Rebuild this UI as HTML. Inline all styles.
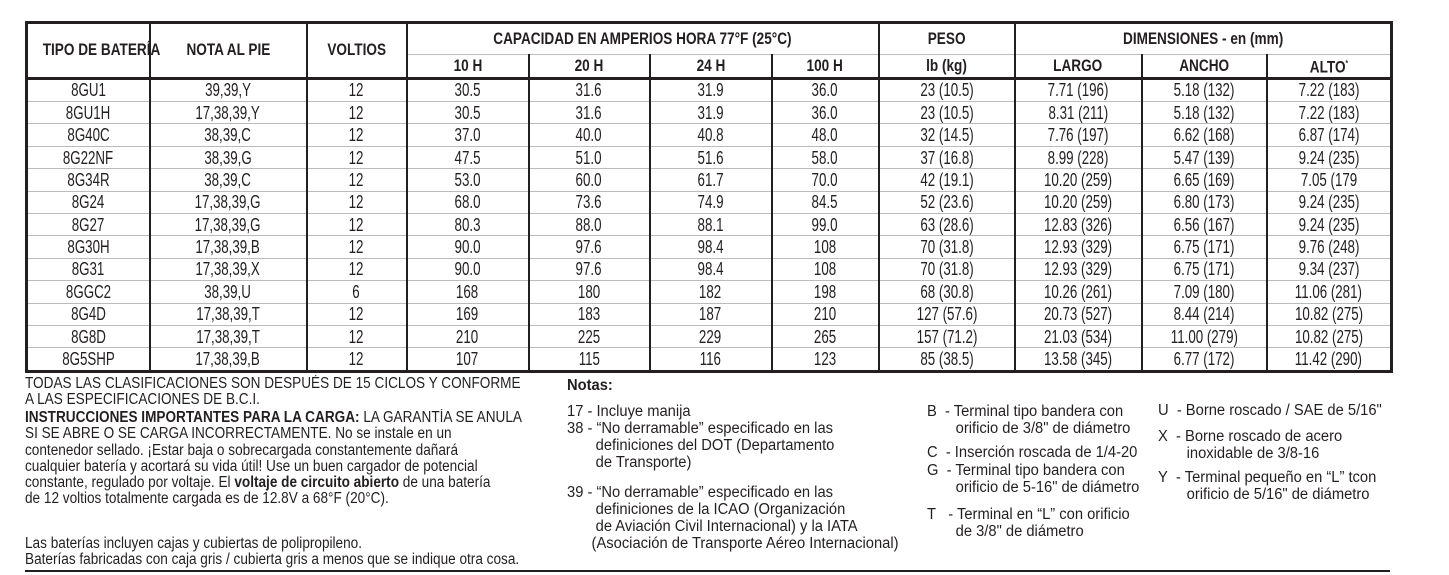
<!DOCTYPE html>
<html><head><meta charset="utf-8">
<style>
body{margin:0;width:1449px;height:575px;background:#fff;position:relative;overflow:hidden;color:#231f20;}
table{position:absolute;left:25px;top:21px;border-collapse:collapse;table-layout:fixed;width:1365px;font-family:"Liberation Sans",sans-serif;font-size:18px;border:3px solid #231f20;}
td,th{padding:0;text-align:center;border-left:2px solid #231f20;border-right:2px solid #231f20;line-height:20px;white-space:nowrap;overflow:visible;}
th{font-weight:bold;font-size:17px;}
td span,th span{display:inline-block;transform:scaleX(0.74);transform-origin:center;}
th span{transform:scaleX(0.8);}
tbody td{height:21.4px;border-bottom:1px solid #bbb;}
tr.h1 th{height:30px;}
tr.h2 th{height:18px;line-height:18px;border-top:1px solid #bbb;border-bottom:3px solid #231f20;}
tr.h1 th[rowspan]{border-bottom:3px solid #231f20;}
.t{position:absolute;font-family:"Liberation Sans",sans-serif;font-size:15.5px;line-height:16.3px;white-space:nowrap;transform:scaleX(0.877);transform-origin:left top;}
.n{position:absolute;font-family:"Liberation Sans",sans-serif;font-size:15.5px;line-height:17px;white-space:nowrap;transform:scaleX(0.95);transform-origin:left top;}
</style></head><body>
<table>
<colgroup><col style="width:123px"><col style="width:157px"><col style="width:100px"><col style="width:122px"><col style="width:121px"><col style="width:122px"><col style="width:107px"><col style="width:136px"><col style="width:127px"><col style="width:125px"><col style="width:125px"></colgroup>
<thead>
<tr class="h1"><th rowspan="2"><span>TIPO DE BATERÍA</span></th><th rowspan="2"><span>NOTA AL PIE</span></th><th rowspan="2"><span>VOLTIOS</span></th><th colspan="4"><span>CAPACIDAD EN AMPERIOS HORA 77°F (25°C)</span></th><th><span>PESO</span></th><th colspan="3"><span>DIMENSIONES - en (mm)</span></th></tr>
<tr class="h2"><th><span>10 H</span></th><th><span>20 H</span></th><th><span>24 H</span></th><th><span>100 H</span></th><th><span>lb (kg)</span></th><th><span>LARGO</span></th><th><span>ANCHO</span></th><th><span>ALTO<sup style="font-size:8px">*</sup></span></th></tr>
</thead>
<tbody>
<tr><td><span>8GU1</span></td><td><span>39,39,Y</span></td><td><span>12</span></td><td><span>30.5</span></td><td><span>31.6</span></td><td><span>31.9</span></td><td><span>36.0</span></td><td><span>23 (10.5)</span></td><td><span>7.71 (196)</span></td><td><span>5.18 (132)</span></td><td><span>7.22 (183)</span></td></tr>
<tr><td><span>8GU1H</span></td><td><span>17,38,39,Y</span></td><td><span>12</span></td><td><span>30.5</span></td><td><span>31.6</span></td><td><span>31.9</span></td><td><span>36.0</span></td><td><span>23 (10.5)</span></td><td><span>8.31 (211)</span></td><td><span>5.18 (132)</span></td><td><span>7.22 (183)</span></td></tr>
<tr><td><span>8G40C</span></td><td><span>38,39,C</span></td><td><span>12</span></td><td><span>37.0</span></td><td><span>40.0</span></td><td><span>40.8</span></td><td><span>48.0</span></td><td><span>32 (14.5)</span></td><td><span>7.76 (197)</span></td><td><span>6.62 (168)</span></td><td><span>6.87 (174)</span></td></tr>
<tr><td><span>8G22NF</span></td><td><span>38,39,G</span></td><td><span>12</span></td><td><span>47.5</span></td><td><span>51.0</span></td><td><span>51.6</span></td><td><span>58.0</span></td><td><span>37 (16.8)</span></td><td><span>8.99 (228)</span></td><td><span>5.47 (139)</span></td><td><span>9.24 (235)</span></td></tr>
<tr><td><span>8G34R</span></td><td><span>38,39,C</span></td><td><span>12</span></td><td><span>53.0</span></td><td><span>60.0</span></td><td><span>61.7</span></td><td><span>70.0</span></td><td><span>42 (19.1)</span></td><td><span>10.20 (259)</span></td><td><span>6.65 (169)</span></td><td><span>7.05 (179</span></td></tr>
<tr><td><span>8G24</span></td><td><span>17,38,39,G</span></td><td><span>12</span></td><td><span>68.0</span></td><td><span>73.6</span></td><td><span>74.9</span></td><td><span>84.5</span></td><td><span>52 (23.6)</span></td><td><span>10.20 (259)</span></td><td><span>6.80 (173)</span></td><td><span>9.24 (235)</span></td></tr>
<tr><td><span>8G27</span></td><td><span>17,38,39,G</span></td><td><span>12</span></td><td><span>80.3</span></td><td><span>88.0</span></td><td><span>88.1</span></td><td><span>99.0</span></td><td><span>63 (28.6)</span></td><td><span>12.83 (326)</span></td><td><span>6.56 (167)</span></td><td><span>9.24 (235)</span></td></tr>
<tr><td><span>8G30H</span></td><td><span>17,38,39,B</span></td><td><span>12</span></td><td><span>90.0</span></td><td><span>97.6</span></td><td><span>98.4</span></td><td><span>108</span></td><td><span>70 (31.8)</span></td><td><span>12.93 (329)</span></td><td><span>6.75 (171)</span></td><td><span>9.76 (248)</span></td></tr>
<tr><td><span>8G31</span></td><td><span>17,38,39,X</span></td><td><span>12</span></td><td><span>90.0</span></td><td><span>97.6</span></td><td><span>98.4</span></td><td><span>108</span></td><td><span>70 (31.8)</span></td><td><span>12.93 (329)</span></td><td><span>6.75 (171)</span></td><td><span>9.34 (237)</span></td></tr>
<tr><td><span>8GGC2</span></td><td><span>38,39,U</span></td><td><span>6</span></td><td><span>168</span></td><td><span>180</span></td><td><span>182</span></td><td><span>198</span></td><td><span>68 (30.8)</span></td><td><span>10.26 (261)</span></td><td><span>7.09 (180)</span></td><td><span>11.06 (281)</span></td></tr>
<tr><td><span>8G4D</span></td><td><span>17,38,39,T</span></td><td><span>12</span></td><td><span>169</span></td><td><span>183</span></td><td><span>187</span></td><td><span>210</span></td><td><span>127 (57.6)</span></td><td><span>20.73 (527)</span></td><td><span>8.44 (214)</span></td><td><span>10.82 (275)</span></td></tr>
<tr><td><span>8G8D</span></td><td><span>17,38,39,T</span></td><td><span>12</span></td><td><span>210</span></td><td><span>225</span></td><td><span>229</span></td><td><span>265</span></td><td><span>157 (71.2)</span></td><td><span>21.03 (534)</span></td><td><span>11.00 (279)</span></td><td><span>10.82 (275)</span></td></tr>
<tr><td><span>8G5SHP</span></td><td><span>17,38,39,B</span></td><td><span>12</span></td><td><span>107</span></td><td><span>115</span></td><td><span>116</span></td><td><span>123</span></td><td><span>85 (38.5)</span></td><td><span>13.58 (345)</span></td><td><span>6.77 (172)</span></td><td><span>11.42 (290)</span></td></tr>
</tbody></table>

<div class="t" style="left:25px;top:376px;">TODAS LAS CLASIFICACIONES SON DESPUÉS DE 15 CICLOS Y CONFORME<br>A LAS ESPECIFICACIONES DE B.C.I.</div>
<div class="t" style="left:25px;top:410px;"><b>INSTRUCCIONES IMPORTANTES PARA LA CARGA:</b> LA GARANTÍA SE ANULA<br>SI SE ABRE O SE CARGA INCORRECTAMENTE. No se instale en un<br>contenedor sellado. ¡Estar baja o sobrecargada constantemente dañará<br>cualquier batería y acortará su vida útil! Use un buen cargador de potencial<br>constante, regulado por voltaje. El <b>voltaje de circuito abierto</b> de una batería<br>de 12 voltios totalmente cargada es de 12.8V a 68°F (20°C).</div>
<div class="t" style="left:25px;top:536px;">Las baterías incluyen cajas y cubiertas de polipropileno.<br>Baterías fabricadas con caja gris / cubierta gris a menos que se indique otra cosa.</div>

<div class="n" style="left:567px;top:377px;font-weight:bold;">Notas:</div>
<div class="n" style="left:567px;top:403px;">17 - Incluye manija</div>
<div class="n" style="left:567px;top:420px;">38 - “No derramable” especificado en las<br>&nbsp;&nbsp;&nbsp;&nbsp;&nbsp;&nbsp;&nbsp;definiciones del DOT (Departamento<br>&nbsp;&nbsp;&nbsp;&nbsp;&nbsp;&nbsp;&nbsp;de Transporte)</div>
<div class="n" style="left:567px;top:484px;">39 - “No derramable” especificado en las<br>&nbsp;&nbsp;&nbsp;&nbsp;&nbsp;&nbsp;&nbsp;definiciones de la ICAO (Organización<br>&nbsp;&nbsp;&nbsp;&nbsp;&nbsp;&nbsp;&nbsp;de Aviación Civil Internacional) y la IATA<br>&nbsp;&nbsp;&nbsp;&nbsp;&nbsp;&nbsp;(Asociación de Transporte Aéreo Internacional)</div>

<div class="n" style="left:927px;top:403px;">B&nbsp; - Terminal tipo bandera con<br>&nbsp;&nbsp;&nbsp;&nbsp;&nbsp;&nbsp;&nbsp;orificio de 3/8" de diámetro</div>
<div class="n" style="left:927px;top:444px;">C&nbsp; - Inserción roscada de 1/4-20</div>
<div class="n" style="left:927px;top:462px;">G&nbsp; - Terminal tipo bandera con<br>&nbsp;&nbsp;&nbsp;&nbsp;&nbsp;&nbsp;&nbsp;orificio de 5-16" de diámetro</div>
<div class="n" style="left:927px;top:506px;">T&nbsp;&nbsp; - Terminal en “L” con orificio<br>&nbsp;&nbsp;&nbsp;&nbsp;&nbsp;&nbsp;&nbsp;de 3/8" de diámetro</div>

<div class="n" style="left:1158px;top:402px;">U&nbsp; - Borne roscado / SAE de 5/16"</div>
<div class="n" style="left:1158px;top:428px;">X&nbsp; - Borne roscado de acero<br>&nbsp;&nbsp;&nbsp;&nbsp;&nbsp;&nbsp;&nbsp;inoxidable de 3/8-16</div>
<div class="n" style="left:1158px;top:469px;">Y&nbsp; - Terminal pequeño en “L” tcon<br>&nbsp;&nbsp;&nbsp;&nbsp;&nbsp;&nbsp;&nbsp;orificio de 5/16" de diámetro</div>

<div style="position:absolute;left:25px;top:570px;width:1365px;height:2px;background:#231f20;"></div>
</body></html>
